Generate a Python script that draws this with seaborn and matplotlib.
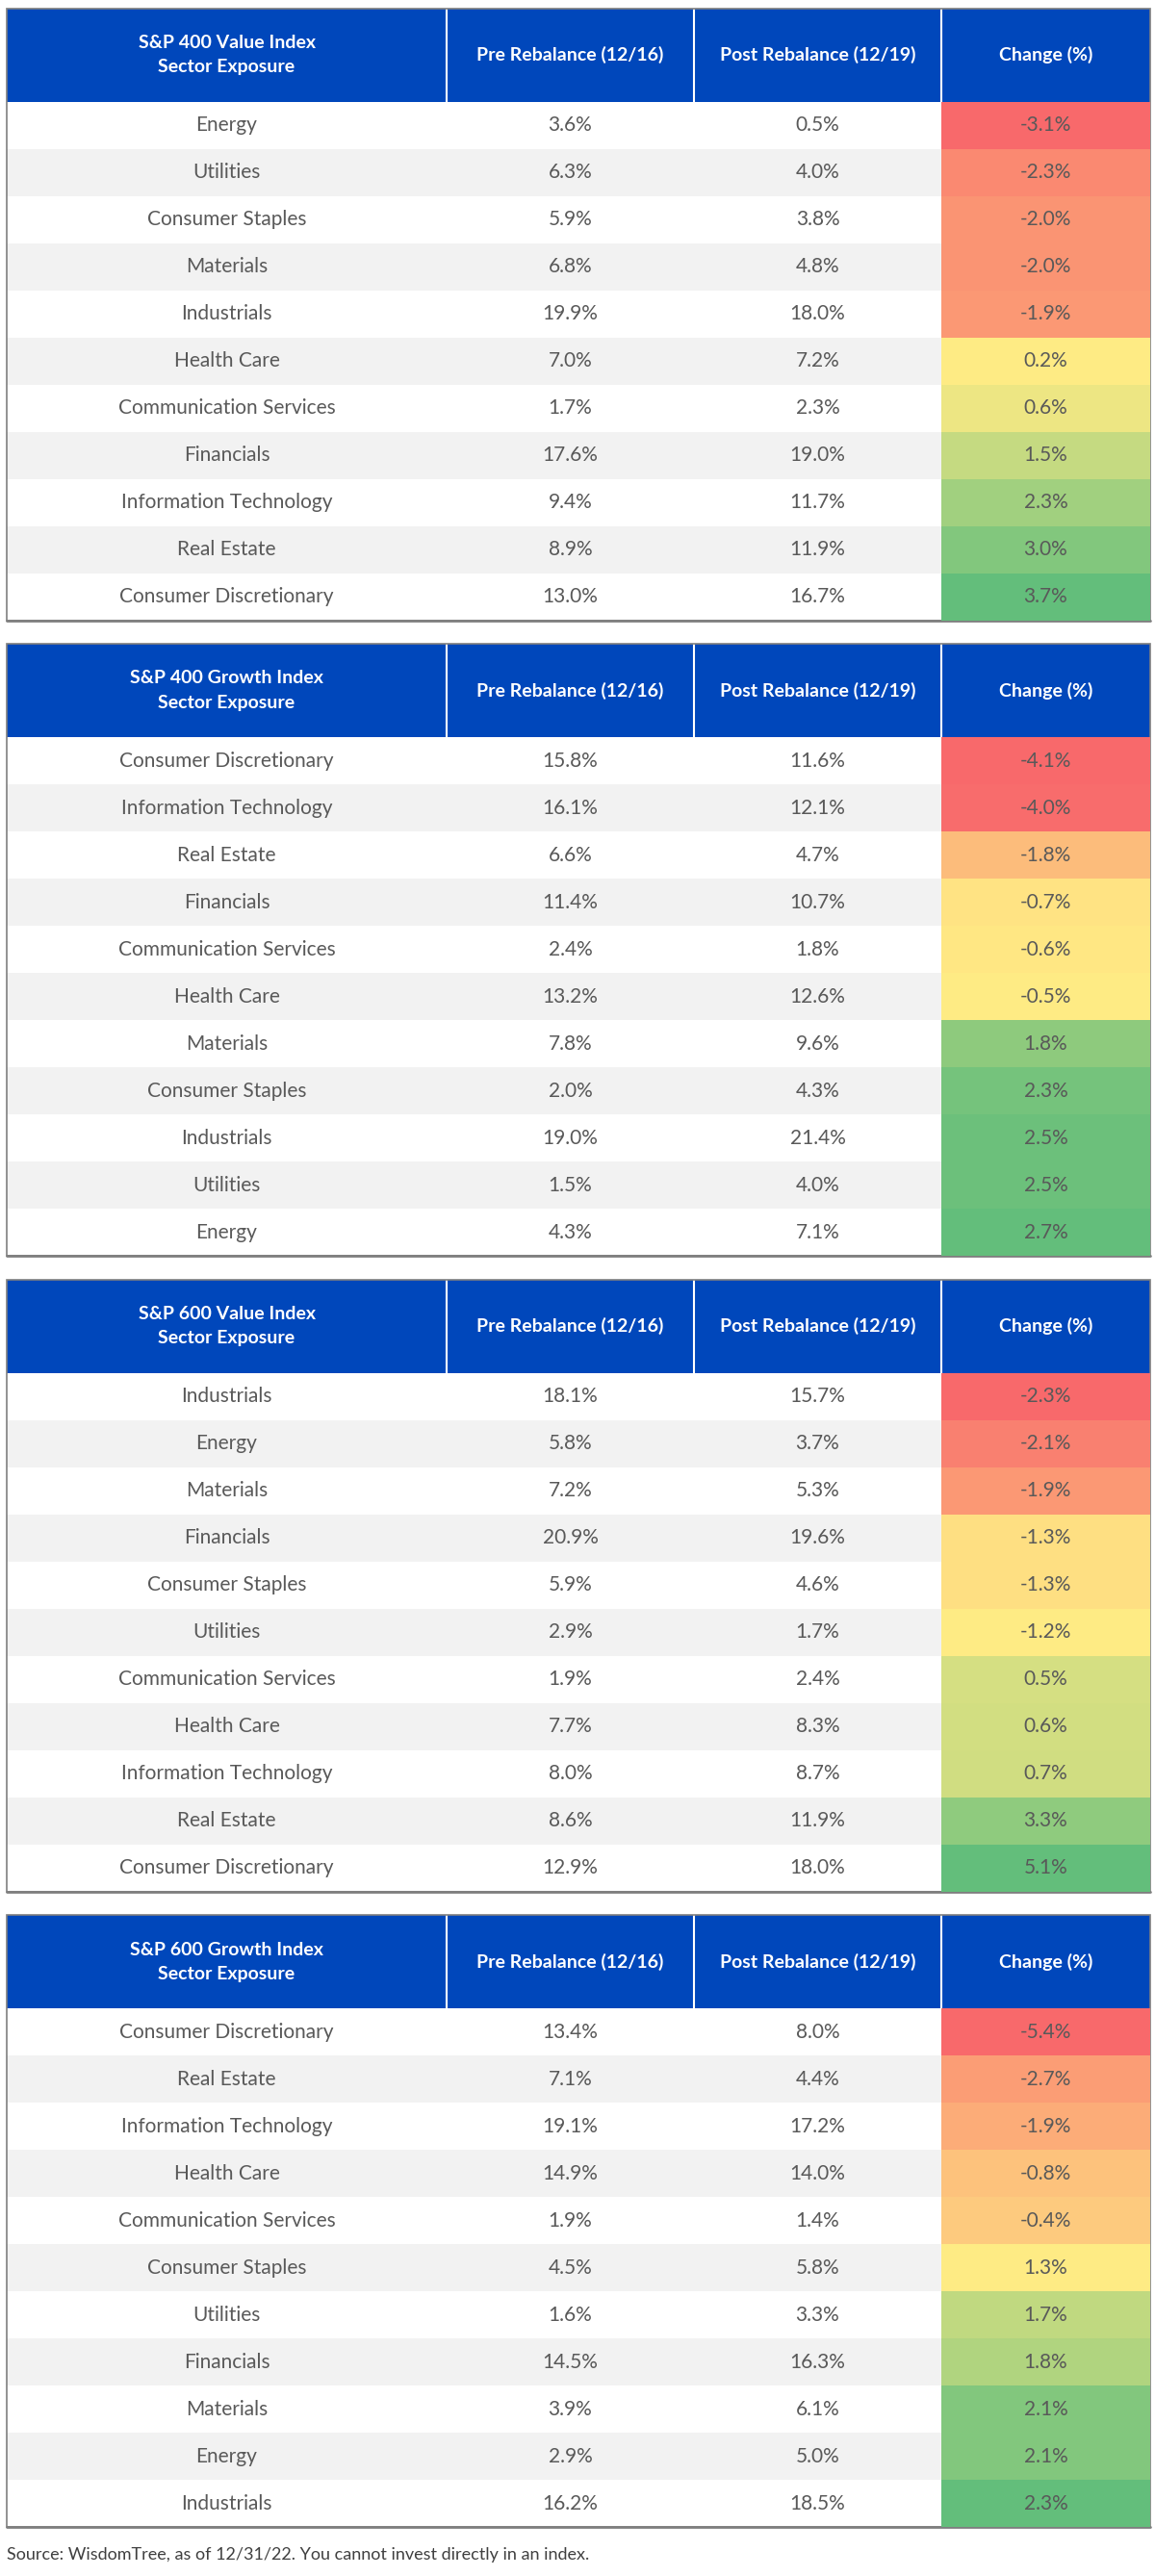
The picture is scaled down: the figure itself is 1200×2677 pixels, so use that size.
import matplotlib
matplotlib.use("Agg")
import matplotlib.pyplot as plt
import seaborn as sns
import numpy as np
from matplotlib.colors import LinearSegmentedColormap, TwoSlopeNorm
from matplotlib.patches import Rectangle

sns.set_theme(style="white")
plt.rcParams['font.family'] = ['Lato', 'DejaVu Sans']

titles = ["S&P 400 Value Index\nSector Exposure", "S&P 400 Growth Index\nSector Exposure",
          "S&P 600 Value Index\nSector Exposure", "S&P 600 Growth Index\nSector Exposure"]
col_headers = ["Pre Rebalance (12/16)", "Post Rebalance (12/19)", "Change (%)"]

sectors_1 = ["Energy", "Utilities", "Consumer Staples", "Materials", "Industrials", "Health Care",
             "Communication Services", "Financials", "Information Technology", "Real Estate", "Consumer Discretionary"]
pre_1 = [3.6, 6.3, 5.9, 6.8, 19.9, 7.0, 1.7, 17.6, 9.4, 8.9, 13.0]
post_1 = [0.5, 4.0, 3.8, 4.8, 18.0, 7.2, 2.3, 19.0, 11.7, 11.9, 16.7]
chg_1 = [-3.1, -2.3, -2.0, -2.0, -1.9, 0.2, 0.6, 1.5, 2.3, 3.0, 3.7]

sectors_2 = ["Consumer Discretionary", "Information Technology", "Real Estate", "Financials",
             "Communication Services", "Health Care", "Materials", "Consumer Staples", "Industrials", "Utilities", "Energy"]
pre_2 = [15.8, 16.1, 6.6, 11.4, 2.4, 13.2, 7.8, 2.0, 19.0, 1.5, 4.3]
post_2 = [11.6, 12.1, 4.7, 10.7, 1.8, 12.6, 9.6, 4.3, 21.4, 4.0, 7.1]
chg_2 = [-4.1, -4.0, -1.8, -0.7, -0.6, -0.5, 1.8, 2.3, 2.5, 2.5, 2.7]

sectors_3 = ["Industrials", "Energy", "Materials", "Financials", "Consumer Staples", "Utilities",
             "Communication Services", "Health Care", "Information Technology", "Real Estate", "Consumer Discretionary"]
pre_3 = [18.1, 5.8, 7.2, 20.9, 5.9, 2.9, 1.9, 7.7, 8.0, 8.6, 12.9]
post_3 = [15.7, 3.7, 5.3, 19.6, 4.6, 1.7, 2.4, 8.3, 8.7, 11.9, 18.0]
chg_3 = [-2.3, -2.1, -1.9, -1.3, -1.3, -1.2, 0.5, 0.6, 0.7, 3.3, 5.1]

sectors_4 = ["Consumer Discretionary", "Real Estate", "Information Technology", "Health Care",
             "Communication Services", "Consumer Staples", "Utilities", "Financials", "Materials", "Energy", "Industrials"]
pre_4 = [13.4, 7.1, 19.1, 14.9, 1.9, 4.5, 1.6, 14.5, 3.9, 2.9, 16.2]
post_4 = [8.0, 4.4, 17.2, 14.0, 1.4, 5.8, 3.3, 16.3, 6.1, 5.0, 18.5]
chg_4 = [-5.4, -2.7, -1.9, -0.8, -0.4, 1.3, 1.7, 1.8, 2.1, 2.1, 2.3]

tables = [(sectors_1, pre_1, post_1, chg_1), (sectors_2, pre_2, post_2, chg_2),
          (sectors_3, pre_3, post_3, chg_3), (sectors_4, pre_4, post_4, chg_4)]

W, H = 1200, 2677
fig = plt.figure(figsize=(W / 100, H / 100), dpi=100)
ax = fig.add_axes([0, 0, 1, 1])
ax.set_xlim(0, W); ax.set_ylim(H, 0); ax.axis('off')

cmap = LinearSegmentedColormap.from_list("ryg", ["#F8696B", "#FFEB84", "#63BE7B"])
BLUE = "#0047BB"
TXT = "#595959"
xs = [7, 464, 721, 978, 1195]
HH, RH = 97, 49
for k, (sec, pre, post, chg) in enumerate(tables):
    top = 8.5 + k * 660.6
    ax.add_patch(Rectangle((xs[0], top), xs[-1] - xs[0], HH, color=BLUE, lw=0))
    for x in xs[1:-1]:
        ax.plot([x, x], [top, top + HH], color="white", lw=1.5)
    ax.text((xs[0] + xs[1]) / 2, top + HH / 2, titles[k], color="white", fontsize=14,
            fontweight="bold", ha="center", va="center", linespacing=1.6)
    for j, h in enumerate(col_headers):
        ax.text((xs[j + 1] + xs[j + 2]) / 2, top + HH / 2, h, color="white", fontsize=14,
                fontweight="bold", ha="center", va="center")
    y0 = top + HH
    for i in range(len(sec)):
        y = y0 + i * RH
        if i % 2 == 1:
            ax.add_patch(Rectangle((xs[0], y), xs[3] - xs[0], RH, color="#F2F2F2", lw=0))
        cy = y + RH / 2
        ax.text((xs[0] + xs[1]) / 2, cy, sec[i], color=TXT, fontsize=15, ha="center", va="center")
        ax.text((xs[1] + xs[2]) / 2, cy, f"{pre[i]:.1f}%", color=TXT, fontsize=15, ha="center", va="center")
        ax.text((xs[2] + xs[3]) / 2, cy, f"{post[i]:.1f}%", color=TXT, fontsize=15, ha="center", va="center")
    bottom = y0 + len(sec) * RH
    # change column heatmap
    hax = fig.add_axes([xs[3] / W, 1 - bottom / H, (xs[4] - xs[3]) / W, (bottom - y0) / H])
    arr = np.array(chg).reshape(-1, 1)
    norm = TwoSlopeNorm(vmin=min(chg), vcenter=float(np.median(chg)), vmax=max(chg))
    labels = np.array([f"{v:.1f}%" for v in chg]).reshape(-1, 1)
    sns.heatmap(arr, ax=hax, cmap=cmap, norm=norm, cbar=False, annot=labels, fmt="",
                annot_kws={"color": TXT, "fontsize": 15}, xticklabels=False, yticklabels=False)
    hax.axis('off')
    ax.add_patch(Rectangle((xs[0], top), xs[-1] - xs[0], bottom - top, fill=False,
                           edgecolor="#7F7F7F", lw=1.2, zorder=5))
    ax.plot([xs[0], xs[-1]], [bottom, bottom], color="#7F7F7F", lw=2, zorder=5)

ax.text(7, 2655, "Source: WisdomTree, as of 12/31/22. You cannot invest directly in an index.",
        color="#404040", fontsize=13, ha="left", va="center")

fig.savefig("out.png", dpi=100)
